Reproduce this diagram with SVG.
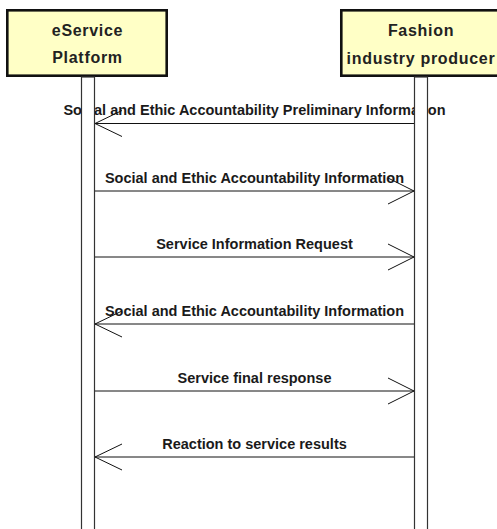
<svg xmlns="http://www.w3.org/2000/svg" width="497" height="529" viewBox="0 0 497 529">
<style>
.box{fill:#FFFFC6;stroke:#111;stroke-width:2.6}
.title{font-family:"Liberation Sans",Arial,sans-serif;font-weight:bold;font-size:16px;letter-spacing:0.7px;fill:#222;text-anchor:middle}
.lbl{font-family:"Liberation Sans",Arial,sans-serif;font-weight:bold;font-size:14.5px;fill:#1a1a1a;text-anchor:middle}
.life{fill:#fff;stroke:#333;stroke-width:1.2}
.msg{fill:none;stroke:#111;stroke-width:1}
</style>
<rect width="497" height="529" fill="#fff"/>
<g id="labels">
<text class="lbl" x="254.5" y="115">Social and Ethic Accountability Preliminary Information</text>
<text class="lbl" x="254.5" y="183">Social and Ethic Accountability Information</text>
<text class="lbl" x="254.5" y="249">Service Information Request</text>
<text class="lbl" x="254.5" y="316">Social and Ethic Accountability Information</text>
<text class="lbl" x="254.5" y="383">Service final response</text>
<text class="lbl" x="254.5" y="449">Reaction to service results</text>
</g>
<g id="eService">
<rect class="box" x="7.3" y="10.3" width="159.4" height="65.4"/>
<text class="title" x="87.5" y="36">eService</text>
<text class="title" x="87.5" y="63">Platform</text>
<rect class="life" x="81.5" y="77" width="13" height="460"/>
</g>
<g id="producer">
<rect class="box" x="341.3" y="10.3" width="161" height="65.4"/>
<text class="title" x="421" y="36">Fashion</text>
<text class="title" x="421" y="64">industry producer</text>
<rect class="life" x="414.5" y="77" width="13" height="460"/>
</g>
<g id="connectors">
<path class="msg" d="M414 123.5H95M122 110.5L95 123.5L122 136.5"/>
<path class="msg" d="M95 191H414M388 178L414 191L388 204"/>
<path class="msg" d="M95 257H414M388 244L414 257L388 270"/>
<path class="msg" d="M414 324H95M122 311L95 324L122 337"/>
<path class="msg" d="M95 391H414M388 378L414 391L388 404"/>
<path class="msg" d="M414 457H95M122 444L95 457L122 470"/>
</g>
</svg>
